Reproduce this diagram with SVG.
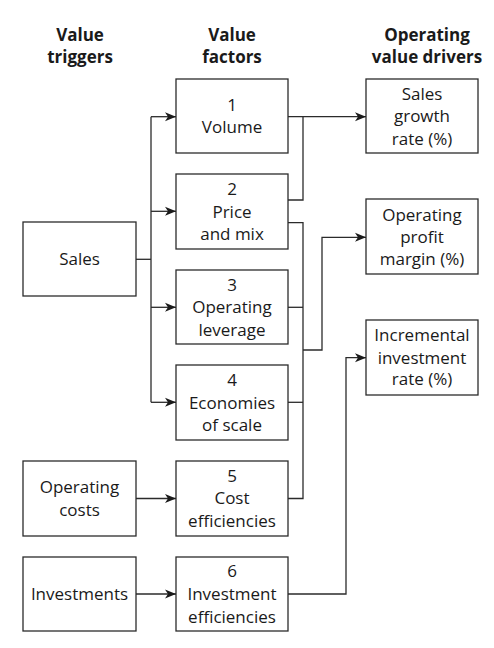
<svg xmlns="http://www.w3.org/2000/svg" width="494" height="648" viewBox="0 0 494 648">
<style>
rect{fill:#fff;stroke:#2b2b2b;stroke-width:1.3}
text{font-family:"Open Sans","Liberation Sans",sans-serif;font-size:17px;fill:#1a1a1a;text-anchor:middle}
.h{font-weight:bold;font-size:17px}
.c path{fill:none;stroke:#2b2b2b;stroke-width:1.3}
</style>
<defs>
<marker id="a" markerWidth="12" markerHeight="10" refX="11" refY="5" orient="auto" markerUnits="userSpaceOnUse">
<path d="M0,0.5 L11,5 L0,9.5 L3,5 Z" fill="#1a1a1a"/>
</marker>
</defs>
<g id="headers">
<text class="h" x="80" y="41">Value</text>
<text class="h" x="80" y="63">triggers</text>
<text class="h" x="232" y="41">Value</text>
<text class="h" x="232" y="63">factors</text>
<text class="h" x="427" y="41">Operating</text>
<text class="h" x="427" y="63">value drivers</text>
</g>
<g id="sales"><rect x="23" y="222" width="113" height="74"/><text x="79.5" y="265">Sales</text></g>
<g id="opcosts"><rect x="23" y="461" width="113" height="75"/><text x="79.5" y="493">Operating</text><text x="79.5" y="515.5">costs</text></g>
<g id="investments"><rect x="23" y="557" width="113" height="74"/><text x="79.5" y="600">Investments</text></g>
<g id="f1"><rect x="176" y="79" width="112" height="74"/><text x="232" y="110.5">1</text><text x="232" y="132.5">Volume</text></g>
<g id="f2"><rect x="176" y="174" width="112" height="75"/><text x="232" y="195">2</text><text x="232" y="217.5">Price</text><text x="232" y="240">and mix</text></g>
<g id="f3"><rect x="176" y="270" width="112" height="74"/><text x="232" y="290.5">3</text><text x="232" y="313">Operating</text><text x="232" y="335.5">leverage</text></g>
<g id="f4"><rect x="176" y="365" width="112" height="75"/><text x="232" y="386">4</text><text x="232" y="408.5">Economies</text><text x="232" y="431">of scale</text></g>
<g id="f5"><rect x="176" y="461" width="112" height="75"/><text x="232" y="481.5">5</text><text x="232" y="504">Cost</text><text x="232" y="526.5">efficiencies</text></g>
<g id="f6"><rect x="176" y="557" width="112" height="74"/><text x="232" y="577">6</text><text x="232" y="600">Investment</text><text x="232" y="622.5">efficiencies</text></g>
<g id="d1"><rect x="366" y="79" width="112" height="74"/><text x="422" y="99.5">Sales</text><text x="422" y="122">growth</text><text x="422" y="145">rate (%)</text></g>
<g id="d2"><rect x="366" y="199" width="112" height="75"/><text x="422" y="220.5">Operating</text><text x="422" y="243">profit</text><text x="422" y="265">margin (%)</text></g>
<g id="d3"><rect x="366" y="320" width="112" height="75"/><text x="422" y="341">Incremental</text><text x="422" y="363.5">investment</text><text x="422" y="385">rate (%)</text></g>
<g class="c" id="connectors">
<path d="M136,259.3 H151"/>
<path d="M151,116.7 V402.3"/>
<path d="M151,116.7 H176" marker-end="url(#a)"/>
<path d="M151,211.3 H176" marker-end="url(#a)"/>
<path d="M151,307.3 H176" marker-end="url(#a)"/>
<path d="M151,402.3 H176" marker-end="url(#a)"/>
<path d="M136,498.5 H176" marker-end="url(#a)"/>
<path d="M136,594 H176" marker-end="url(#a)"/>
<path d="M288,116.7 H366" marker-end="url(#a)"/>
<path d="M288,200 H303 V116.7"/>
<path d="M288,222.7 H303 V498.5 H288"/>
<path d="M288,307.3 H303"/>
<path d="M288,402.3 H303"/>
<path d="M303,350 H322 V237.3 H366" marker-end="url(#a)"/>
<path d="M288,594 H346 V357.7 H366" marker-end="url(#a)"/>
</g>
</svg>
